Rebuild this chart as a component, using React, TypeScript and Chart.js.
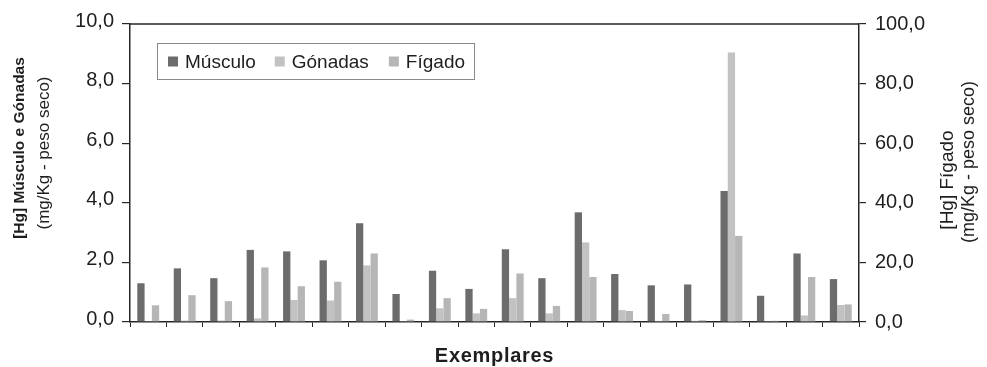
import { useEffect, useRef } from 'react';
import { Chart, registerables } from 'chart.js';

Chart.register(...registerables);

const categories = ['1', '2', '3', '4', '5', '6', '7', '8', '9', '10', '11', '12', '13', '14', '15', '16', '17', '18', '19', '20'];
const seriesNames = ['Músculo', 'Gónadas', 'Fígado'];
// Left axis (mg/Kg - peso seco)
const musculo = [1.30, 1.80, 1.47, 2.42, 2.37, 2.07, 3.31, 0.94, 1.72, 1.11, 2.44, 1.47, 3.68, 1.61, 1.23, 1.26, 4.40, 0.88, 2.30, 1.44];
const gonadas = [0.03, 0.05, 0.05, 0.12, 0.74, 0.72, 1.90, 0.03, 0.46, 0.29, 0.80, 0.29, 2.67, 0.40, 0.04, 0.04, 9.04, 0.03, 0.22, 0.57];
// Right axis (mg/Kg - peso seco)
const figado = [5.6, 9.0, 7.0, 18.3, 12.0, 13.5, 23.0, 0.8, 8.0, 4.4, 16.3, 5.4, 15.1, 3.7, 2.7, 0.6, 28.9, 0.4, 15.1, 5.9];
const leftTicks = { min: 0, max: 10, step: 2 };
const rightTicks = { min: 0, max: 100, step: 20 };
const leftTitle = ['[Hg] Músculo e Gónadas', '(mg/Kg - peso seco)'];
const rightTitle = ['[Hg] Fígado', '(mg/Kg - peso seco)'];
const xTitle = 'Exemplares';

const FONT = "'Liberation Sans', Arial, Helvetica, sans-serif";
const TEXT = '#1e1e1e';
const AXIS = '#262626';
const COLORS = ['#6c6c6c', '#c2c2c2', '#b6b6b6'];

const fmt = (v: number | string) => Number(v).toFixed(1).replace('.', ',');

const decorPlugin = {
  id: 'decor',
  afterDraw(chart: any) {
    const { ctx, chartArea: ca } = chart;
    ctx.save();
    // top border of plot area
    ctx.strokeStyle = AXIS;
    ctx.lineWidth = 1.5;
    ctx.beginPath();
    ctx.moveTo(ca.left, ca.top);
    ctx.lineTo(ca.right, ca.top);
    ctx.stroke();

    // legend box
    const lx = ca.left + 27;
    const ly = ca.top + 19;
    ctx.font = `19px ${FONT}`;
    ctx.textBaseline = 'middle';
    ctx.textAlign = 'left';
    const ds = chart.data.datasets;
    const gaps = [19, 20];
    let w = 11;
    ds.forEach((d: any, i: number) => {
      w += 10 + 7 + ctx.measureText(d.label).width;
      if (i < ds.length - 1) w += gaps[i];
    });
    w += 9;
    const h = 36;
    ctx.strokeStyle = '#8a8a8a';
    ctx.lineWidth = 1;
    ctx.strokeRect(lx + 0.5, ly + 0.5, w, h);
    let x = lx + 11;
    const cy = ly + h / 2 + 0.5;
    ds.forEach((d: any, i: number) => {
      ctx.fillStyle = d.backgroundColor;
      ctx.fillRect(x, cy - 5, 10, 10);
      x += 17;
      ctx.fillStyle = TEXT;
      ctx.fillText(d.label, x, cy + 1);
      x += ctx.measureText(d.label).width;
      if (i < ds.length - 1) x += gaps[i];
    });

    // axis titles
    const drawRot = (text: string, cx: number, cyy: number, font: string) => {
      ctx.save();
      ctx.translate(cx, cyy);
      ctx.rotate(-Math.PI / 2);
      ctx.font = font;
      ctx.fillStyle = TEXT;
      ctx.textAlign = 'center';
      ctx.textBaseline = 'middle';
      ctx.fillText(text, 0, 0);
      ctx.restore();
    };
    drawRot(leftTitle[0], ca.left - 110, ca.top + 124, `bold 15.5px ${FONT}`);
    drawRot(leftTitle[1], ca.left - 86, ca.top + 129, `17px ${FONT}`);
    drawRot(rightTitle[0], ca.right + 89, ca.top + 156, `19px ${FONT}`);
    drawRot(rightTitle[1], ca.right + 110, ca.top + 138, `18px ${FONT}`);

    // x title
    ctx.font = `bold 20px ${FONT}`;
    (ctx as any).letterSpacing = '0.7px';
    ctx.fillStyle = TEXT;
    ctx.textAlign = 'center';
    ctx.textBaseline = 'middle';
    ctx.fillText(xTitle, (ca.left + ca.right) / 2, ca.bottom + 34);
    ctx.restore();
  },
};

export default function App() {
  const ref = useRef<HTMLCanvasElement | null>(null);
  useEffect(() => {
    if (!ref.current) return;
    const chart = new Chart(ref.current, {
      type: 'bar',
      data: {
        labels: categories,
        datasets: [
          { label: seriesNames[0], data: musculo, backgroundColor: COLORS[0], yAxisID: 'y' },
          { label: seriesNames[1], data: gonadas, backgroundColor: COLORS[1], yAxisID: 'y' },
          { label: seriesNames[2], data: figado, backgroundColor: COLORS[2], yAxisID: 'y2' },
        ],
      },
      options: {
        animation: false,
        responsive: true,
        maintainAspectRatio: false,
        layout: { padding: { top: 24, left: 0, right: 0, bottom: 0 } },
        datasets: { bar: { categoryPercentage: 0.6, barPercentage: 1.0 } },
        plugins: { legend: { display: false }, tooltip: { enabled: false }, title: { display: false } },
        scales: {
          x: {
            offset: true,
            grid: { display: true, drawOnChartArea: false, drawTicks: true, tickLength: 5, color: AXIS, lineWidth: 1, offset: true },
            border: { display: true, color: AXIS, width: 1.5 },
            ticks: { display: false },
            afterFit: (s: any) => { s.height = 45; },
          },
          y: {
            position: 'left',
            min: leftTicks.min,
            max: leftTicks.max,
            ticks: {
              stepSize: leftTicks.step,
              callback: (v: any) => fmt(v),
              font: { family: FONT, size: 20 },
              color: TEXT,
              padding: 8,
              labelOffset: -3,
            },
            grid: { drawOnChartArea: false, drawTicks: true, tickLength: 8, color: AXIS, lineWidth: 1.2 },
            border: { display: true, color: AXIS, width: 1.5 },
            afterFit: (s: any) => { s.width = 130; },
          },
          y2: {
            position: 'right',
            min: rightTicks.min,
            max: rightTicks.max,
            ticks: {
              stepSize: rightTicks.step,
              callback: (v: any) => fmt(v),
              font: { family: FONT, size: 20 },
              color: TEXT,
              padding: 9,
            },
            grid: { drawOnChartArea: false, drawTicks: true, tickLength: 7, color: AXIS, lineWidth: 1.2 },
            border: { display: true, color: AXIS, width: 1.5 },
            afterFit: (s: any) => { s.width = 128; },
          },
        },
      },
      plugins: [decorPlugin],
    } as any);
    return () => chart.destroy();
  }, []);
  return (
    <div style={{ position: 'absolute', left: 0, top: 0, width: '987px', height: '367px' }}>
      <canvas ref={ref} />
    </div>
  );
}
